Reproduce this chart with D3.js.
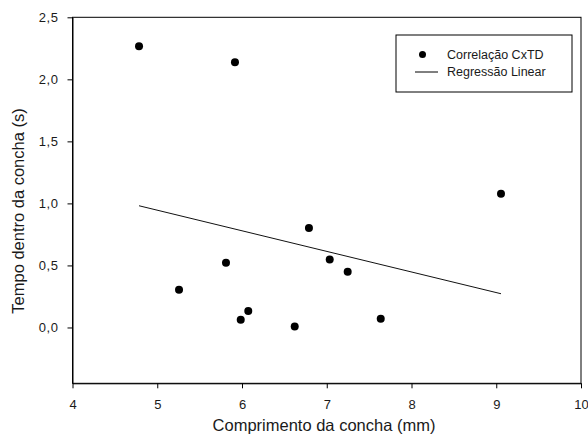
<!DOCTYPE html>
<html>
<head>
<meta charset="utf-8">
<script src="https://cdn.jsdelivr.net/npm/d3@7"></script>
<style>
  html, body { margin: 0; padding: 0; background: #fff; }
  svg { display: block; }
  text { font-family: "Liberation Sans", Arial, sans-serif; fill: #1a1a1a; }
</style>
</head>
<body>
<svg id="chart" width="588" height="446"></svg>
<script>
// Shell length (mm) vs. time spent inside the shell (s)
const comprimento = [4.785, 5.917, 5.811, 5.257, 6.074, 5.985, 6.622, 6.790, 7.035, 7.247, 7.637, 9.056];
const tempo       = [2.266, 2.137, 0.522, 0.304, 0.132, 0.062, 0.008, 0.801, 0.548, 0.449, 0.070, 1.078];

// Fitted linear regression, drawn over the data range
const regressaoX = [4.785, 9.056];
const regressaoY = [0.981, 0.272];

const xTicks = [4, 5, 6, 7, 8, 9, 10];
const yTicks = [0, 0.5, 1.0, 1.5, 2.0, 2.5];

const legendLabels = ["Correlação CxTD", "Regressão Linear"];

const svg = d3.select("#chart");
const m = { left: 72.5, right: 581, top: 17.3, bottom: 383.3 };

const x = d3.scaleLinear().domain([4, 10]).range([m.left, m.right]);
const y = d3.scaleLinear().domain([-0.45, 2.5]).range([m.bottom, m.top]);

const fmt = d => d3.format(".1f")(d).replace(".", ",");

// frame
svg.append("rect")
  .attr("x", m.left).attr("y", m.top)
  .attr("width", m.right - m.left).attr("height", m.bottom - m.top)
  .attr("fill", "none").attr("stroke", "#000").attr("stroke-width", 1);

// x axis
const gx = svg.append("g")
  .attr("transform", `translate(0,${m.bottom})`)
  .call(d3.axisBottom(x).tickValues(xTicks).tickFormat(d3.format("d")).tickSize(5).tickSizeOuter(0).tickPadding(11));
gx.select(".domain").attr("stroke", "#000");
gx.selectAll(".tick line").attr("stroke", "#000");
gx.selectAll("text").attr("font-size", 13).attr("fill", "#1a1a1a");

// y axis
const gy = svg.append("g")
  .attr("transform", `translate(${m.left},0)`)
  .call(d3.axisLeft(y).tickValues(yTicks).tickFormat(fmt).tickSize(5).tickSizeOuter(0).tickPadding(9));
gy.select(".domain").attr("stroke", "#000");
gy.selectAll(".tick line").attr("stroke", "#000");
gy.selectAll("text").attr("font-size", 13).attr("letter-spacing", 0.6).attr("fill", "#1a1a1a");

// axis titles
svg.append("text")
  .attr("x", 324).attr("y", 431)
  .attr("text-anchor", "middle").attr("font-size", 16.5)
  .text("Comprimento da concha (mm)");

svg.append("text")
  .attr("transform", `translate(24,211) rotate(-90)`)
  .attr("text-anchor", "middle").attr("font-size", 16.5)
  .text("Tempo dentro da concha (s)");

// regression line
svg.append("line")
  .attr("x1", x(regressaoX[0])).attr("y1", y(regressaoY[0]))
  .attr("x2", x(regressaoX[1])).attr("y2", y(regressaoY[1]))
  .attr("stroke", "#111").attr("stroke-width", 1);

// data points
svg.append("g").selectAll("circle")
  .data(comprimento.map((c, i) => [c, tempo[i]]))
  .join("circle")
  .attr("cx", d => x(d[0])).attr("cy", d => y(d[1]))
  .attr("r", 4).attr("fill", "#000");

// legend
const lg = svg.append("g");
lg.append("rect")
  .attr("x", 396).attr("y", 35).attr("width", 176).attr("height", 57)
  .attr("fill", "#fff").attr("stroke", "#000").attr("stroke-width", 1);
lg.append("circle").attr("cx", 422.5).attr("cy", 54.5).attr("r", 3.5).attr("fill", "#000");
lg.append("line").attr("x1", 415).attr("x2", 438).attr("y1", 72).attr("y2", 72)
  .attr("stroke", "#000").attr("stroke-width", 1);
lg.selectAll("text.lbl").data(legendLabels).join("text")
  .attr("class", "lbl")
  .attr("x", 447).attr("y", (d, i) => 59 + i * 17)
  .attr("font-size", 12.5)
  .text(d => d);
</script>
</body>
</html>
